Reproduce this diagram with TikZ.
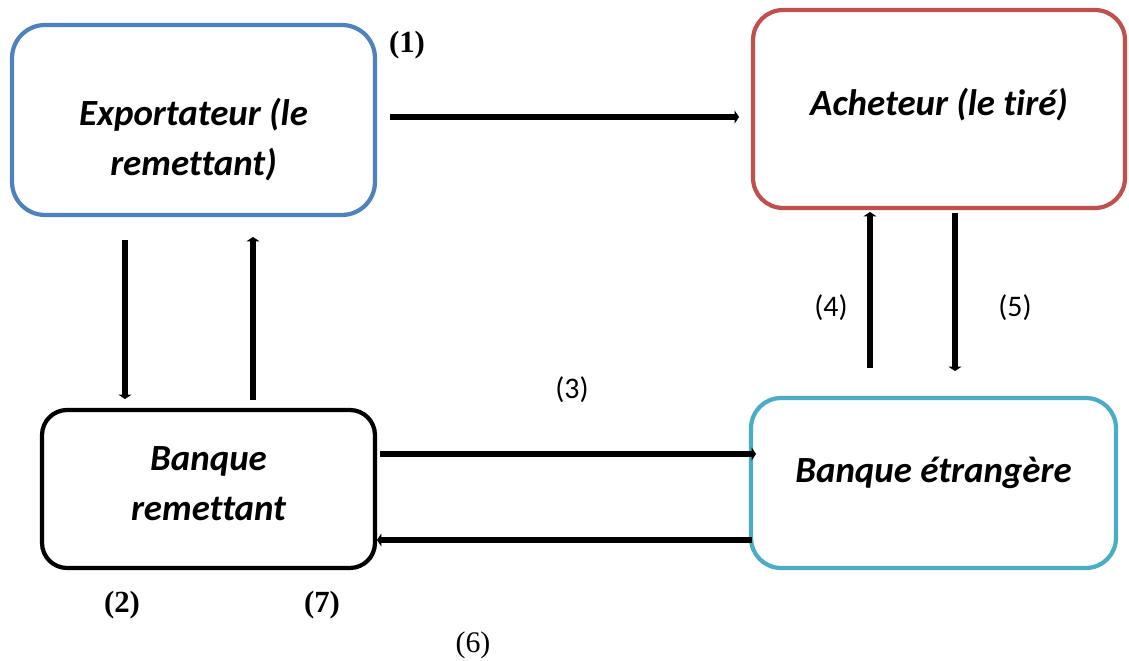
\documentclass[tikz,border=0pt]{standalone}
\usepackage{fontspec}
\setmainfont{Liberation Serif}
\newfontfamily\boxfont[Ligatures=NoCommon]{Carlito}
\usetikzlibrary{arrows.meta}
\definecolor{exblue}{HTML}{4F81BD}
\definecolor{achred}{HTML}{C0504D}
\definecolor{bankcyan}{HTML}{4BACC6}
\begin{document}
\begin{tikzpicture}[x=0.02cm,y=-0.02cm,
  party/.style={draw, line width=2.4pt, inner sep=0pt},
  partytext/.style={align=center, inner sep=0pt,
    font=\boxfont\bfseries\itshape\fontsize{21pt}{28.5pt}\selectfont},
  flow/.style={line width=3.6pt, -{Triangle[length=2.5pt,width=7.5pt]}},
  numbold/.style={font=\bfseries\fontsize{17.5pt}{19pt}\selectfont},
  numsans/.style={font=\boxfont\fontsize{17pt}{19pt}\selectfont},
  numserif/.style={font=\fontsize{17pt}{19pt}\selectfont}]
\useasboundingbox (0,0) rectangle (1129,661);

% the four parties, each name set a little off the box centre
\node[party, draw=exblue, minimum width=7.26cm, minimum height=3.8cm, rounded corners=0.66cm,
  label={[partytext, yshift=-0.4cm]center:{Exportateur (le\\remettant)}}]
  (exp) at (193.5,120) {};
\node[party, draw=achred, minimum width=7.44cm, minimum height=3.96cm, rounded corners=0.6cm,
  label={[partytext, yshift=0.08cm]center:{Acheteur (le tiré)}}]
  (ach) at (939,109) {};
\node[party, draw=black, minimum width=6.66cm, minimum height=3.16cm, rounded corners=0.5cm,
  label={[partytext, yshift=0.1cm]center:{Banque\\remettant}}]
  (brem) at (208.5,489) {};
\node[party, draw=bankcyan, minimum width=7.3cm, minimum height=3.4cm, rounded corners=0.6cm,
  label={[partytext, yshift=0.2cm]center:{Banque étrangère}}]
  (betr) at (933.5,483) {};

% free ends of the flows
\coordinate (f1a) at (390,117);  \coordinate (f1b) at (739,117);
\coordinate (f2a) at (125,240);  \coordinate (f2b) at (125,399);
\coordinate (f7a) at (253,400);  \coordinate (f7b) at (253,237);
\coordinate (f4a) at (870,368);  \coordinate (f4b) at (870,212);
\coordinate (f5a) at (955,213);  \coordinate (f5b) at (955,371);
\coordinate (f3a) at (380,454);  \coordinate (f3b) at (756,454);
\coordinate (f6a) at (752,540);  \coordinate (f6b) at (377,540);

\draw[flow] (f1a) -- (f1b);
\draw[flow] (f2a) -- (f2b);
\draw[flow] (f7a) -- (f7b);
\draw[flow] (f4a) -- (f4b);
\draw[flow] (f5a) -- (f5b);
\draw[flow] (f3a) -- (f3b);
\draw[flow] (f6a) -- (f6b);

% step numbers
\node[numbold] (n1) at (407,45) {(1)};
\node[numbold] (n2) at (122,605) {(2)};
\node[numbold] (n7) at (322,605) {(7)};
\node[numsans] (n3) at (572,390) {(3)};
\node[numsans] (n4) at (831,308) {(4)};
\node[numsans] (n5) at (1015,308) {(5)};
\node[numserif] (n6) at (473,645) {(6)};
\end{tikzpicture}
\end{document}
